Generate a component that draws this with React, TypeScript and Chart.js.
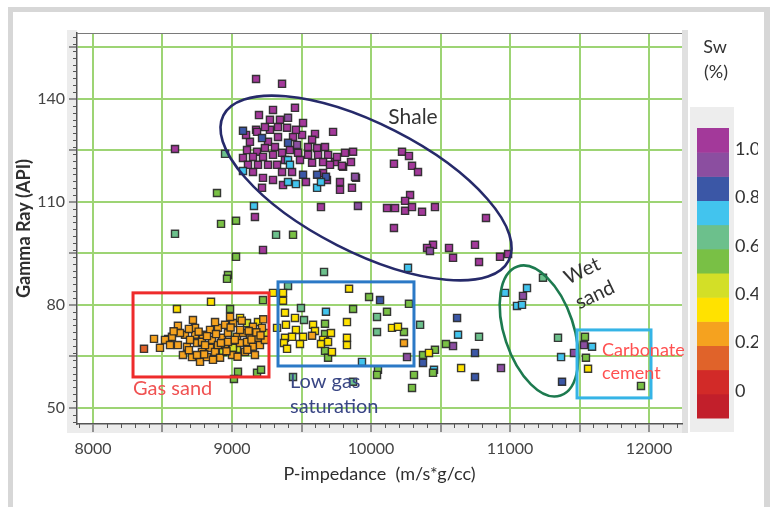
import React, { useEffect, useRef } from "react";
import { Chart, registerables } from "chart.js";

Chart.register(...registerables);

type Pt = [number, number];

// [P-impedance (m/s*g/cc), Gamma Ray (API)] grouped by water-saturation class
const sw100: Pt[] = [
  [9173, 145.8], [9360, 144.4], [9453, 137.4], [9295, 136.8], [9194, 135.3], [9273, 133.9], [9345, 133.9],
  [9511, 133.0], [9173, 131.0], [9597, 129.8], [9727, 130.4], [9180, 130.4], [9273, 131.0], [9331, 131.8],
  [9396, 131.6], [9439, 128.9], [9504, 129.5], [9129, 127.5], [9259, 127.5], [9331, 128.9], [9108, 125.1],
  [9180, 124.6], [9237, 125.7], [9309, 126.0], [9547, 126.0], [9612, 125.7], [9669, 126.0], [9813, 124.3],
  [9871, 124.6], [9079, 122.8], [9151, 123.1], [9223, 123.1], [9295, 123.7], [9360, 124.3], [9475, 124.3],
  [9547, 123.7], [9619, 123.7], [9691, 123.7], [9741, 121.6], [9799, 120.2], [9187, 120.8], [9259, 120.8],
  [9324, 120.8], [9360, 118.7], [9432, 118.7], [9655, 118.4], [9683, 116.4], [9777, 115.8], [9777, 113.5],
  [9863, 114.1], [9223, 117.0], [9295, 116.4], [9151, 118.7], [9755, 123.1], [9791, 120.5], [9892, 117.0],
  [9640, 108.5], [8590, 125.4], [9165, 105.6], [9223, 96.0], [10115, 108.2], [10223, 124.6], [10165, 121.1],
  [10281, 112.0], [10273, 123.4], [10295, 120.5], [10338, 118.7], [10173, 108.2], [10245, 110.3],
  [10245, 107.4], [10295, 108.5], [10367, 107.1], [10460, 108.5], [10165, 102.4], [10827, 105.3],
  [10446, 97.5], [10403, 96.6], [10561, 96.6], [10590, 93.7], [10748, 97.5], [10777, 92.5], [10928, 94.0],
  [10986, 94.8], [9115, 120.8], [9381, 122.2], [9489, 122.2], [9576, 128.1], [9655, 121.6], [9417, 125.1],
  [9101, 129.5], [9237, 131.8], [9460, 131.0], [9576, 121.4], [9705, 120.8], [9856, 121.6], [9532, 115.8],
  [9216, 114.1], [9367, 114.9],
];
const sw95: Pt[] = [
  [9403, 134.5], [9468, 126.6], [9885, 117.3], [9906, 108.8], [10424, 95.7], [11093, 82.6], [10590, 68.0],
  [10259, 64.8], [10935, 61.6], [11460, 66.0], [11532, 68.3],
];
const sw85: Pt[] = [
  [9079, 130.7], [9216, 128.6], [9403, 127.2], [9511, 117.9], [9612, 117.9], [9676, 117.3], [10065, 81.4],
  [10619, 76.2], [10374, 63.1], [10748, 66.0], [10748, 59.0], [11374, 57.6],
];
const sw75: Pt[] = [
  [9403, 122.2], [9417, 120.8], [9612, 114.1], [9640, 115.8], [9403, 115.8], [9460, 115.2], [9079, 119.0],
  [9158, 108.8], [10266, 90.8], [10964, 83.5], [11122, 84.9], [11050, 79.7], [11086, 80.0], [10626, 71.3],
  [10453, 61.1], [11367, 64.8], [11590, 67.8], [9676, 78.0], [9935, 63.4],
];
const sw65: Pt[] = [
  [8950, 124.0], [8590, 100.7], [9317, 100.4], [9662, 89.6], [9403, 85.5], [11237, 87.9], [10353, 74.2],
  [10777, 70.7], [11345, 70.4], [9496, 79.1], [9518, 75.6], [10043, 76.5], [10043, 72.1], [9871, 57.6],
  [9439, 59.0],
];
const sw55: Pt[] = [
  [8892, 112.6], [9029, 104.5], [8921, 103.6], [9439, 100.4], [9029, 94.0], [8971, 88.7], [8964, 87.6],
  [8986, 78.8], [9223, 81.4], [9043, 60.5], [9014, 58.4], [9180, 60.2], [9209, 61.1], [9986, 82.3],
  [10115, 78.0], [10273, 80.3], [9871, 78.8], [9669, 74.5], [10237, 72.1], [9669, 71.5], [9669, 66.6],
  [9691, 64.6], [10050, 61.1], [10043, 59.6], [10309, 59.6], [10295, 55.8], [10539, 68.6], [10460, 66.9],
  [10374, 65.4], [10446, 60.2], [11539, 70.7], [11546, 64.6], [11942, 56.4], [8540, 70.1],
];
const sw45: Pt[] = [
  [8964, 69.2], [9036, 67.2], [9108, 74.7], [9237, 71.8], [8935, 66.3], [9007, 67.5],
];
const sw35: Pt[] = [
  [8604, 78.8], [8849, 80.9], [9058, 76.2], [9187, 75.0], [9295, 83.5], [9367, 83.5], [9367, 81.2],
  [9842, 84.7], [9381, 77.7], [9453, 76.2], [9827, 75.0], [9583, 74.2], [9388, 74.2], [10151, 73.3],
  [10194, 73.6], [9324, 73.3], [9460, 72.7], [9597, 72.4], [9712, 71.8], [9381, 70.4], [9432, 70.7],
  [9511, 70.7], [9655, 69.8], [9827, 70.4], [9827, 68.3], [9374, 68.9], [9489, 68.6], [9640, 68.6],
  [9396, 67.2], [9719, 66.3], [10417, 66.0], [10648, 61.6], [11561, 61.4], [9691, 69.2],
];
const sw25: Pt[] = [
  [8439, 70.1], [8482, 67.5], [8611, 73.9], [8719, 75.6], [8568, 70.7], [8611, 68.3], [8662, 71.3],
  [8676, 67.8], [8734, 71.3], [8748, 68.9], [8647, 65.4], [8712, 64.8], [8784, 69.2], [8784, 66.3],
  [8842, 72.7], [8856, 69.8], [8842, 67.5], [8770, 63.4], [8820, 64.8], [8878, 66.3], [8928, 70.4],
  [8899, 73.3], [8950, 74.2], [8971, 71.8], [8914, 64.6], [9007, 74.7], [9036, 70.7], [9079, 71.8],
  [9058, 68.9], [9108, 69.2], [9129, 71.3], [9151, 67.8], [9187, 70.4], [9216, 73.3], [9151, 73.6],
  [8878, 75.0], [8986, 76.5], [8791, 71.3], [8748, 65.4], [8863, 64.0], [8806, 68.3], [9576, 71.0],
  [10237, 68.9], [8518, 69.8], [8698, 69.8], [8950, 68.3], [9000, 65.4], [9094, 66.3], [9201, 68.3],
  [8971, 69.2], [8899, 68.3], [8734, 73.3], [9058, 72.7], [8554, 68.3], [9165, 65.4], [9237, 69.8],
  [8626, 71.8], [8690, 73.0], [8760, 72.2], [8820, 70.9], [8885, 71.5], [8920, 68.9], [8990, 73.4],
  [9020, 69.8], [9070, 75.4], [9120, 72.4], [9140, 69.9], [9175, 72.0], [9205, 71.1], [9225, 75.8],
  [8690, 66.8], [8800, 65.6], [8960, 66.5], [9040, 64.9], [9110, 66.9], [8580, 72.3],
];
const sw15: Pt[] = [[8367, 67.2]];

const swClasses: { sw: number; pts: Pt[] }[] = [
  { sw: 0.15, pts: sw15 },
  { sw: 0.25, pts: sw25 },
  { sw: 0.35, pts: sw35 },
  { sw: 0.45, pts: sw45 },
  { sw: 0.55, pts: sw55 },
  { sw: 0.65, pts: sw65 },
  { sw: 0.75, pts: sw75 },
  { sw: 0.85, pts: sw85 },
  { sw: 0.95, pts: sw95 },
  { sw: 1.0, pts: sw100 },
];

// Axis ranges and ticks
const xMin = 7885;
const xMax = 12237;
const yMin = 45.3;
const yMax = 159.2;
const xGridValues = [8000, 8500, 9000, 9500, 10000, 10500, 11000, 11500, 12000];
const xLabelValues = [8000, 9000, 10000, 11000, 12000];
const yGridValues = [50, 65, 80, 95, 110, 125, 140, 155];
const yLabelValues = [50, 80, 110, 140];

// Sw colour scale: 0.1-wide bands from -0.1 up to 1.1
const swBandStart = -0.1;
const swBandStep = 0.1;
const swBandColors = [
  "#c21f2b", "#d22a28", "#e0632a", "#f5a21f", "#ffe200", "#d3df27",
  "#79c045", "#6cc08c", "#42c4ee", "#3b57a6", "#8b4ea0", "#a3399a",
];
const swTickValues = [0, 0.2, 0.4, 0.6, 0.8, 1.0];
const swTickLabels = ["0", "0.2", "0.4", "0.6", "0.8", "1.0"];

// Interpretation zones in data units
const shaleEllipse = { a: [8938, 135.2] as Pt, b: [10990, 92.9] as Pt, ratio: 0.4 };
const wetSandEllipse = { a: [11054, 91.2] as Pt, b: [11363, 53.6] as Pt, ratio: 0.51 };
const gasSandBox = { x0: 8288, x1: 9266, y0: 59.0, y1: 83.5 };
const lowGasBox = { x0: 9331, x1: 10309, y0: 62.2, y1: 86.7 };
const carbonateBox = { x0: 11482, x1: 12014, y0: 52.9, y1: 72.7 };

function swColor(sw: number): string {
  let i = Math.floor((sw - swBandStart) / swBandStep + 1e-9);
  i = Math.max(0, Math.min(swBandColors.length - 1, i));
  return swBandColors[i];
}

const FONT = "Lato, 'Open Sans', sans-serif";

const framePlugin = {
  id: "frame",
  beforeDraw(chart: any) {
    const ctx = chart.ctx;
    const { left, right, top, bottom } = chart.chartArea;
    ctx.save();
    ctx.fillStyle = "#ffffff";
    ctx.fillRect(0, 0, chart.width, chart.height);
    // outer frame
    ctx.fillStyle = "#d7d7d7";
    ctx.fillRect(8, 7, 762, 5);
    ctx.fillRect(8, 7, 5, chart.height - 7);
    ctx.fillRect(764, 7, 6, chart.height - 7);
    // tick bands
    ctx.fillStyle = "#ececec";
    ctx.fillRect(left - 10, top - 3, 10, bottom - top + 12);
    ctx.fillRect(left, bottom, right - left + 2, 9);
    ctx.fillStyle = "#e0e0e0";
    ctx.fillRect(right, top - 3, 6, bottom - top + 12);

    // colour bar panel
    ctx.fillStyle = "#ededed";
    ctx.fillRect(690, 107, 44, 325);
    const barTop = 128;
    const barBottom = 418;
    const vMax = swBandStart + swBandStep * swBandColors.length;
    const toY = (v: number) => barTop + ((vMax - v) / (vMax - swBandStart)) * (barBottom - barTop);
    swBandColors.forEach((c, i) => {
      const v0 = swBandStart + i * swBandStep;
      const y0 = toY(v0 + swBandStep);
      const y1 = toY(v0);
      ctx.fillStyle = c;
      ctx.fillRect(697, y0, 32, y1 - y0 + 0.5);
    });
    ctx.save();
    ctx.beginPath();
    ctx.rect(690, 100, 68, 340);
    ctx.clip();
    ctx.fillStyle = "#333";
    ctx.font = `18px ${FONT}`;
    ctx.textAlign = "left";
    ctx.textBaseline = "middle";
    swTickValues.forEach((v, i) => ctx.fillText(swTickLabels[i], 735, toY(v) - 3));
    ctx.restore();
    ctx.fillStyle = "#333";
    ctx.font = `18px ${FONT}`;
    ctx.textAlign = "center";
    ctx.textBaseline = "middle";
    ctx.fillText("Sw", 715, 47);
    ctx.fillText("(%)", 716, 72);
    ctx.restore();
  },
  afterDraw(chart: any) {
    const ctx = chart.ctx;
    const xs = chart.scales.x;
    const ys = chart.scales.y;
    const { left, right, top, bottom } = chart.chartArea;
    ctx.save();
    // top edge of plot
    ctx.strokeStyle = "#7a7a7a";
    ctx.lineWidth = 1;
    ctx.beginPath();
    ctx.moveTo(left, top + 0.5);
    ctx.lineTo(right, top + 0.5);
    ctx.stroke();
    // minor ticks
    ctx.strokeStyle = "#555";
    ctx.beginPath();
    for (let v = 7900; v <= 12200; v += 100) {
      if (v % 500 === 0) continue;
      const p = Math.round(xs.getPixelForValue(v)) + 0.5;
      ctx.moveTo(p, bottom);
      ctx.lineTo(p, bottom + 4);
    }
    for (let v = 46; v <= 158; v += 2) {
      if (yGridValues.some((g) => Math.abs(g - v) < 0.6)) continue;
      const p = Math.round(ys.getPixelForValue(v)) + 0.5;
      ctx.moveTo(left - 4, p);
      ctx.lineTo(left, p);
    }
    ctx.stroke();
    ctx.restore();
  },
};

const zonesPlugin = {
  id: "zones",
  afterDatasetsDraw(chart: any) {
    const ctx = chart.ctx;
    const xs = chart.scales.x;
    const ys = chart.scales.y;
    const px = (v: number) => xs.getPixelForValue(v);
    const py = (v: number) => ys.getPixelForValue(v);

    const ellipse = (e: { a: Pt; b: Pt; ratio: number }, color: string) => {
      const ax = px(e.a[0]), ay = py(e.a[1]);
      const bx = px(e.b[0]), by = py(e.b[1]);
      const cx = (ax + bx) / 2, cy = (ay + by) / 2;
      const ra = Math.hypot(bx - ax, by - ay) / 2;
      const ang = Math.atan2(by - ay, bx - ax);
      ctx.beginPath();
      ctx.ellipse(cx, cy, ra, ra * e.ratio, ang, 0, Math.PI * 2);
      ctx.strokeStyle = color;
      ctx.lineWidth = 2.6;
      ctx.stroke();
    };
    const box = (b: { x0: number; x1: number; y0: number; y1: number }, color: string) => {
      const x0 = px(b.x0), x1 = px(b.x1), y0 = py(b.y1), y1 = py(b.y0);
      ctx.strokeStyle = color;
      ctx.lineWidth = 3;
      ctx.strokeRect(x0, y0, x1 - x0, y1 - y0);
    };
    const text = (s: string, x: number, y: number, color: string, size: number, align: CanvasTextAlign, rot = 0) => {
      ctx.save();
      ctx.translate(px(x), py(y));
      ctx.rotate(rot);
      ctx.fillStyle = color;
      ctx.font = `${size}px ${FONT}`;
      ctx.textAlign = align;
      ctx.textBaseline = "middle";
      ctx.fillText(s, 0, 0);
      ctx.restore();
    };

    ctx.save();
    ellipse(shaleEllipse, "#262a6a");
    ellipse(wetSandEllipse, "#1d7a4f");
    box(gasSandBox, "#ee2b2b");
    box(lowGasBox, "#2b79c6");
    box(carbonateBox, "#35b4e6");

    text("Shale", 10302, 134.8, "#333", 21, "center");
    text("Wet", 11518, 89.9, "#333", 20, "center", -0.44);
    text("sand", 11611, 82.9, "#333", 20, "center", -0.44);
    text("Gas sand", 8288, 55.5, "#f05252", 20, "left");
    text("Low gas", 9417, 57.6, "#3a4785", 20, "left");
    text("saturation", 9417, 50.3, "#3a4785", 20, "left");
    text("Carbonate", 11662, 66.9, "#ff5050", 18, "left");
    text("cement", 11662, 60.2, "#ff5050", 18, "left");
    ctx.restore();
  },
};

export default function App() {
  const canvasRef = useRef<HTMLCanvasElement | null>(null);

  useEffect(() => {
    if (!canvasRef.current) return;
    const datasets = swClasses.map((c) => ({
      label: `Sw ${c.sw}`,
      data: c.pts.map(([x, y]) => ({ x, y })),
      pointStyle: "rect" as const,
      pointRadius: 5,
      pointHoverRadius: 5,
      backgroundColor: swColor(c.sw),
      borderColor: "rgba(38,38,38,0.9)",
      borderWidth: 1.4,
      showLine: false,
    }));

    const chart = new Chart(canvasRef.current, {
      type: "scatter",
      data: { datasets },
      plugins: [framePlugin, zonesPlugin],
      options: {
        animation: false,
        responsive: false,
        devicePixelRatio: 1,
        events: [],
        layout: { padding: { left: 0, top: 33, right: 91, bottom: 0 } },
        plugins: { legend: { display: false }, tooltip: { enabled: false } },
        scales: {
          x: {
            type: "linear",
            min: xMin,
            max: xMax,
            afterFit: (s: any) => {
              s.height = 83;
            },
            afterBuildTicks: (s: any) => {
              s.ticks = xGridValues.map((v) => ({ value: v }));
            },
            ticks: {
              autoSkip: false,
              maxRotation: 0,
              padding: 7,
              color: "#444",
              font: { family: FONT, size: 16 },
              callback: (v: any) => (xLabelValues.includes(Number(v)) ? String(v) : ""),
            },
            grid: { color: "#9dd474", lineWidth: 2, tickColor: "#555", tickLength: 8, tickWidth: 1.2 },
            border: { color: "#555", width: 1.5 },
            title: {
              display: true,
              text: "P-impedance  (m/s*g/cc)",
              color: "#2e2e2e",
              font: { family: FONT, size: 18 },
              padding: { top: 0, bottom: 22 },
            },
          },
          y: {
            type: "linear",
            min: yMin,
            max: yMax,
            afterFit: (s: any) => {
              s.width = 77;
            },
            afterBuildTicks: (s: any) => {
              s.ticks = yGridValues.map((v) => ({ value: v }));
            },
            ticks: {
              autoSkip: false,
              padding: 4,
              color: "#444",
              font: { family: FONT, size: 16 },
              callback: (v: any) => (yLabelValues.includes(Number(v)) ? String(v) : ""),
            },
            grid: { color: "#9dd474", lineWidth: 2, tickColor: "#555", tickLength: 8, tickWidth: 1.2 },
            border: { color: "#555", width: 1.5 },
            title: {
              display: true,
              text: "Gamma Ray (API)",
              color: "#2e2e2e",
              font: { family: FONT, size: 18, weight: "bold" },
              padding: { top: 13, bottom: 0 },
            },
          },
        },
      },
    });
    return () => chart.destroy();
  }, []);

  return (
    <div style={{ position: "fixed", left: 0, top: 0, width: 773, height: 507, background: "#fff" }}>
      <canvas ref={canvasRef} width={773} height={507} style={{ display: "block" }} />
    </div>
  );
}
